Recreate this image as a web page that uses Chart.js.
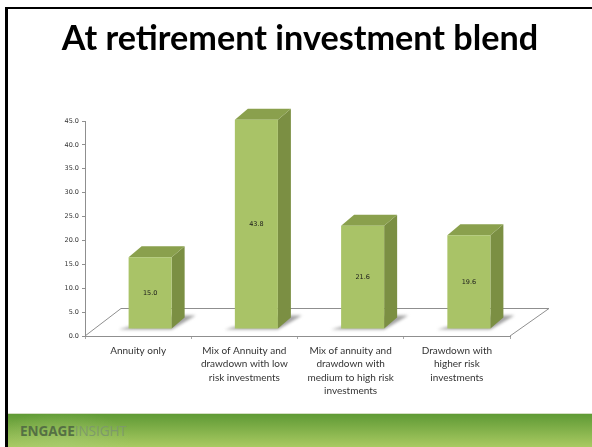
<!DOCTYPE html>
<html>
<head>
<meta charset="utf-8">
<title>At retirement investment blend</title>
<script src="https://cdn.jsdelivr.net/npm/chart.js@4"></script>
<style>
html,body{margin:0;padding:0;background:#fff;overflow:hidden}
#slide{position:relative;width:592px;height:447px;overflow:hidden}
#frameTop{position:absolute;left:5px;top:7px;right:0;height:2px;background:#000}
#frameLeft{position:absolute;left:5px;top:7px;bottom:0;width:3px;background:#000}
#title{position:absolute;left:8px;width:584px;top:15px;text-align:center;font:bold 34.2px Lato,sans-serif;color:#000;line-height:44px;white-space:nowrap}
#footer{position:absolute;left:8px;right:0;top:413px;bottom:0;background:radial-gradient(ellipse 70px 34px at 55px 30px,rgba(170,205,120,.45),rgba(170,205,120,0)),linear-gradient(#5f9a35,#a9ca62);border-top:1px solid #d5dfc4}
#brand{position:absolute;left:12px;top:7px;font:bold 13.6px "Open Sans",sans-serif;color:#557044;letter-spacing:-.1px}
#brand span{color:#7d9a6a;font-weight:normal}
canvas{position:absolute;left:0;top:0}
</style>
</head>
<body>
<div id="slide">
<canvas id="chart" width="592" height="447"></canvas>
<div id="frameTop"></div>
<div id="frameLeft"></div>
<div id="title">At retirement investment blend</div>
<div id="footer"><div id="brand">ENGAGE<span>INSIGHT</span></div></div>
</div>
<script>
'use strict';

let categories=[
    ['Annuity only'],
    ['Mix of Annuity and','drawdown with low','risk investments'],
    ['Mix of annuity and','drawdown with','medium to high risk','investments'],
    ['Drawdown with','higher risk','investments']
];
let blendValues=[15.0,43.8,21.6,19.6];
let yTicks=[0,5,10,15,20,25,30,35,40,45];

// the pretend 3d look, sizes in pixels
let depthX=13;
let depthY=11;
let barShiftX=12;
let barShiftY=-7;

let floorAndBoxes={
    id:'floorAndBoxes',
    beforeDatasetsDraw(chart){
        let ctx=chart.ctx;
        let x=chart.scales.x;
        let y=chart.scales.y;
        let bottom=y.getPixelForValue(0);

        ctx.save();
        ctx.strokeStyle='#8f8f8f';
        ctx.lineWidth=1;
        ctx.beginPath();
        ctx.moveTo(x.left,bottom);
        ctx.lineTo(x.left+36,bottom-27.5);
        ctx.lineTo(x.right+39,bottom-27.5);
        ctx.lineTo(x.right,bottom);
        ctx.stroke();
        ctx.restore();

        ctx.save();
        ctx.translate(barShiftX,barShiftY);
        chart.getDatasetMeta(0).data.forEach(function(bar){
            let left=bar.x-bar.width/2;
            let right=bar.x+bar.width/2;
            let top=bar.y;
            let base=bar.base;

            ctx.save();
            ctx.filter='blur(1.5px)';
            ctx.fillStyle='#a3a3a3';
            ctx.beginPath();
            ctx.moveTo(left-10,base+1);
            ctx.lineTo(right,base+1);
            ctx.lineTo(right+24,base-13);
            ctx.lineTo(right,base-13);
            ctx.closePath();
            ctx.fill();
            ctx.restore();

            ctx.fillStyle='#7b8f43';
            ctx.beginPath();
            ctx.moveTo(right,top);
            ctx.lineTo(right+depthX,top-depthY);
            ctx.lineTo(right+depthX,base-depthY);
            ctx.lineTo(right,base);
            ctx.closePath();
            ctx.fill();

            ctx.fillStyle='#8aa04d';
            ctx.beginPath();
            ctx.moveTo(left,top);
            ctx.lineTo(left+depthX,top-depthY);
            ctx.lineTo(right+depthX,top-depthY);
            ctx.lineTo(right,top);
            ctx.closePath();
            ctx.fill();
        });
    },
    afterDatasetsDraw(chart){
        let ctx=chart.ctx;
        ctx.fillStyle='#1a1a1a';
        ctx.font='6.5px "DejaVu Sans"';
        ctx.textAlign='center';
        ctx.textBaseline='middle';
        chart.getDatasetMeta(0).data.forEach(function(bar,i){
            ctx.fillText(blendValues[i].toFixed(1),bar.x,(bar.y+bar.base)/2);
        });
        ctx.restore();
    }
};

let ctx=document.getElementById('chart').getContext('2d');
let myChart=new Chart(ctx,{
    type:'bar',
    data:{
        labels:categories,
        datasets:[{
            data:blendValues,
            backgroundColor:'#a9c367',
            borderWidth:0,
            barPercentage:0.405,
            categoryPercentage:1,
            yAxisID:'y'
        }]
    },
    plugins:[floorAndBoxes],
    options:{
        responsive:false,
        animation:false,
        layout:{padding:{top:121,right:82,left:0,bottom:0}},
        plugins:{legend:{display:false},tooltip:{enabled:false},title:{display:false}},
        scales:{
            x:{
                afterFit(scale){scale.height=111},
                grid:{drawOnChartArea:false,color:'#a8a8a8',tickLength:3},
                border:{color:'#8f8f8f'},
                ticks:{
                    maxRotation:0,
                    autoSkip:false,
                    padding:5,
                    color:'#333',
                    font:{family:'Lato',size:10,lineHeight:1.34}
                }
            },
            y:{
                min:0,
                max:45,
                afterFit(scale){scale.width=85},
                afterBuildTicks(scale){scale.ticks=yTicks.map(function(v){return {value:v}})},
                grid:{drawOnChartArea:false,color:'#8f8f8f',tickLength:3},
                border:{color:'#8f8f8f'},
                ticks:{
                    padding:3,
                    color:'#333',
                    font:{family:'DejaVu Sans',size:6.5},
                    callback(v){return v.toFixed(1)}
                }
            }
        }
    }
});
</script>
</body>
</html>
